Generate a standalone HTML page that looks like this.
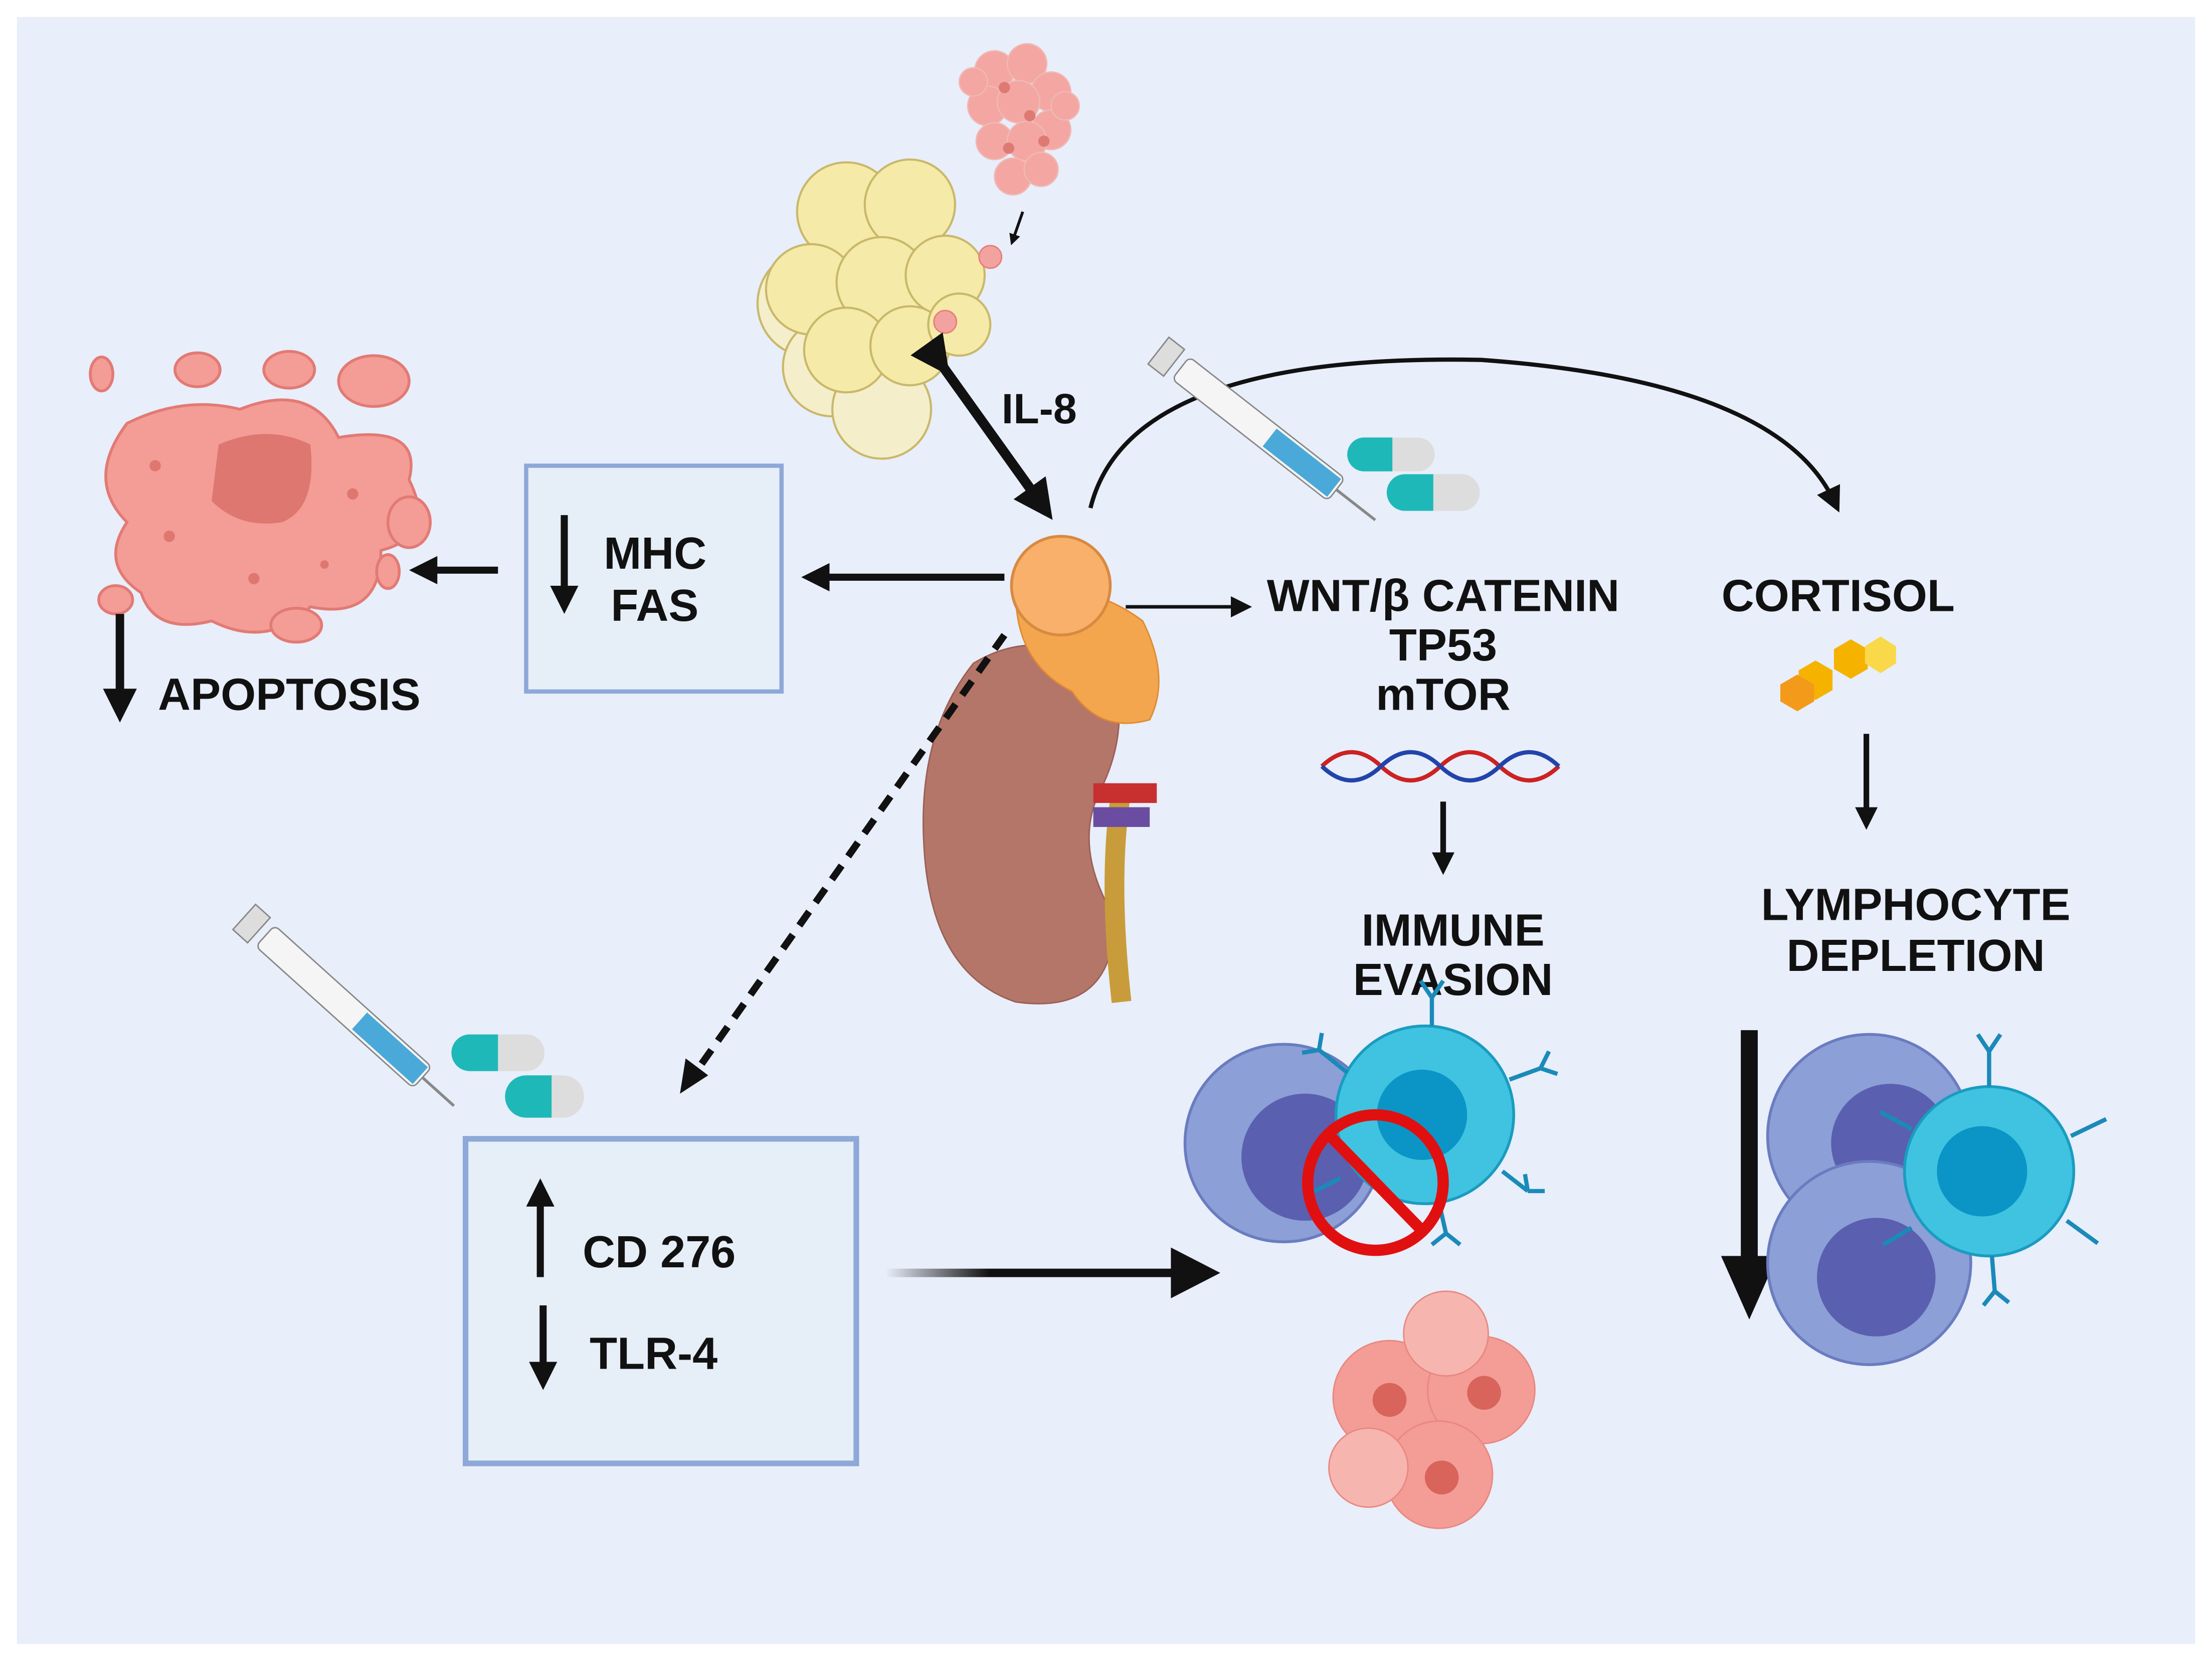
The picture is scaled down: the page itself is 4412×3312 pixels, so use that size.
<!DOCTYPE html>
<html><head><meta charset="utf-8"><style>
html,body{margin:0;padding:0;background:#fff;}
svg{display:block;}
text{font-family:"Liberation Sans",sans-serif;font-weight:bold;fill:#111;}
</style></head><body>
<svg width="4412" height="3312" viewBox="0 0 1568 1177" xmlns="http://www.w3.org/2000/svg">
<defs>
<marker id="ah" markerWidth="4" markerHeight="4" refX="2" refY="2" orient="auto" markerUnits="strokeWidth"><path d="M0,0 L4,2 L0,4 z" fill="#111"/></marker>
<marker id="ahs" markerWidth="6" markerHeight="6" refX="3" refY="3" orient="auto" markerUnits="strokeWidth"><path d="M0,0 L6,3 L0,6 z" fill="#111"/></marker>
<linearGradient id="fade" x1="0" x2="1" y1="0" y2="0"><stop offset="0" stop-color="#111" stop-opacity="0"/><stop offset="0.35" stop-color="#111"/></linearGradient>
</defs>
<rect x="12" y="12" width="1544" height="1153" fill="#e8eefa"/>

<!-- fat cells -->
<g fill="#f6eaa8" stroke="#c9b86a" stroke-width="1.5">
<circle cx="575" cy="215" r="38" fill="#f5eecb"/><circle cx="590" cy="260" r="35" fill="#f5eecb"/>
<circle cx="625" cy="290" r="35" fill="#f5eecb"/>
<circle cx="600" cy="150" r="35"/><circle cx="645" cy="145" r="32"/><circle cx="575" cy="205" r="32"/>
<circle cx="625" cy="200" r="32"/><circle cx="670" cy="195" r="28"/><circle cx="600" cy="248" r="30"/>
<circle cx="645" cy="245" r="28"/><circle cx="680" cy="230" r="22"/>
</g>
<g fill="#f4a6a2" stroke="#f0b8b4" stroke-width="1">
<circle cx="705" cy="50" r="14"/><circle cx="728" cy="45" r="14"/><circle cx="745" cy="65" r="14"/>
<circle cx="700" cy="75" r="14"/><circle cx="722" cy="72" r="15"/><circle cx="745" cy="92" r="14"/>
<circle cx="705" cy="100" r="13"/><circle cx="728" cy="100" r="14"/><circle cx="718" cy="125" r="13"/>
<circle cx="738" cy="120" r="12"/><circle cx="690" cy="58" r="10"/><circle cx="755" cy="75" r="10"/>
</g>
<g fill="#de7a74"><circle cx="712" cy="62" r="4"/><circle cx="730" cy="82" r="4"/><circle cx="715" cy="105" r="4"/><circle cx="740" cy="100" r="4"/></g>
<g fill="#f2a3a0" stroke="#e87d7a">
<circle cx="702" cy="182" r="8"/><circle cx="670" cy="228" r="8"/>
</g>
<path d="M725 150 L718 170" stroke="#111" stroke-width="2" marker-end="url(#ah)"/>

<!-- apoptosis blob -->
<g fill="#f49c96" stroke="#e27a74" stroke-width="2">
<path d="M90 300 Q130 280 170 290 Q220 270 240 310 Q300 300 290 340 Q310 380 270 390 Q270 440 220 430 Q190 460 150 440 Q110 450 100 420 Q70 400 90 370 Q60 340 90 300z"/>
<ellipse cx="140" cy="262" rx="16" ry="12"/><ellipse cx="205" cy="262" rx="18" ry="13"/><ellipse cx="265" cy="270" rx="25" ry="18"/>
<ellipse cx="72" cy="265" rx="8" ry="12"/><ellipse cx="82" cy="425" rx="12" ry="10"/><ellipse cx="210" cy="443" rx="18" ry="12"/>
<ellipse cx="275" cy="405" rx="8" ry="12"/><ellipse cx="290" cy="370" rx="15" ry="18"/>
</g>
<path d="M155 315 Q190 300 220 315 Q225 360 200 370 Q170 375 150 355z" fill="#de776f"/>
<g fill="#de776f"><circle cx="110" cy="330" r="4"/><circle cx="120" cy="380" r="4"/><circle cx="250" cy="350" r="4"/><circle cx="180" cy="410" r="4"/><circle cx="230" cy="400" r="3"/></g>

<!-- MHC box -->
<rect x="373" y="330" width="181" height="160" fill="#e6eef8" stroke="#8ea8d8" stroke-width="3"/>
<line x1="400" y1="365" x2="400" y2="425" stroke="#111" stroke-width="5" marker-end="url(#ah)"/>
<text x="428" y="403" font-size="32">MHC</text><text x="433" y="440" font-size="32">FAS</text>
<line x1="353" y1="404" x2="300" y2="404" stroke="#111" stroke-width="5" marker-end="url(#ah)"/>
<line x1="712" y1="409" x2="578" y2="409" stroke="#111" stroke-width="5" marker-end="url(#ah)"/>
<line x1="85" y1="435" x2="85" y2="500" stroke="#111" stroke-width="6" marker-end="url(#ah)"/>
<text x="112" y="503" font-size="32">APOPTOSIS</text>

<!-- IL-8 -->
<line x1="665" y1="255" x2="738" y2="357" stroke="#111" stroke-width="7" marker-start="url(#ah)" marker-end="url(#ah)"/>
<text x="710" y="300" font-size="30">IL-8</text>

<!-- kidney -->
<path d="M690 470 Q650 520 655 600 Q660 690 720 710 Q790 720 790 650 Q760 600 780 560 Q800 520 790 480 Q740 440 690 470z" fill="#b5766a" stroke="#9a5e54"/>
<path d="M795 560 Q785 620 795 710" stroke="#c89c3a" stroke-width="14" fill="none"/>
<rect x="775" y="555" width="45" height="14" fill="#c83030"/><rect x="775" y="572" width="40" height="14" fill="#6a4da0"/>
<path d="M720 420 Q770 410 810 440 Q830 480 815 510 Q780 520 760 490 Q720 470 720 420z" fill="#f3a64e" stroke="#e08a30"/>
<circle cx="752" cy="415" r="35" fill="#f8b06a" stroke="#d88a40" stroke-width="2"/>

<!-- curved arrow to cortisol -->
<path d="M773 360 Q800 250 1050 255 Q1260 270 1300 355" stroke="#111" stroke-width="3" fill="none" marker-end="url(#ahs)"/>
<line x1="798" y1="430" x2="880" y2="430" stroke="#111" stroke-width="2.5" marker-end="url(#ahs)"/>

<!-- syringe + pills top -->
<g transform="rotate(38 900 310)"><rect x="820" y="300" width="140" height="20" rx="4" fill="#f5f5f5" stroke="#888"/><rect x="900" y="302" width="58" height="16" fill="#4aa9d8"/><line x1="960" y1="310" x2="995" y2="310" stroke="#888" stroke-width="2"/><rect x="800" y="298" width="14" height="24" fill="#ddd" stroke="#888"/></g>
<g><rect x="955" y="310" width="62" height="24" rx="12" fill="#ddd"/><path d="M967 310 h20 v24 h-20 a12 12 0 0 1 0 -24z" fill="#1fb8b8"/>
<rect x="983" y="336" width="66" height="26" rx="13" fill="#ddd"/><path d="M996 336 h20 v26 h-20 a13 13 0 0 1 0 -26z" fill="#1fb8b8"/></g>

<text x="1023" y="433" font-size="32" text-anchor="middle">WNT/β CATENIN</text>
<text x="1023" y="468" font-size="32" text-anchor="middle">TP53</text>
<text x="1023" y="503" font-size="32" text-anchor="middle">mTOR</text>
<path d="M937 543 q21 -20 42 0 t42 0 t42 0 t42 0" stroke="#cc2222" stroke-width="3" fill="none"/>
<path d="M937 543 q21 20 42 0 t42 0 t42 0 t42 0" stroke="#2244aa" stroke-width="3" fill="none"/>
<line x1="1023" y1="568" x2="1023" y2="612" stroke="#111" stroke-width="4" marker-end="url(#ah)"/>
<text x="1030" y="670" font-size="32" text-anchor="middle">IMMUNE</text>
<text x="1030" y="705" font-size="32" text-anchor="middle">EVASION</text>

<text x="1303" y="433" font-size="32" text-anchor="middle">CORTISOL</text>
<g fill="#f5b300"><polygon points="1275,475 1287,468 1299,475 1299,489 1287,496 1275,489"/><polygon points="1300,460 1312,453 1324,460 1324,474 1312,481 1300,474"/><polygon points="1322,458 1333,451 1344,458 1344,470 1333,477 1322,470" fill="#f9d84a"/><polygon points="1262,485 1274,478 1286,485 1286,497 1274,504 1262,497" fill="#f39a1a"/></g>
<line x1="1323" y1="520" x2="1323" y2="580" stroke="#111" stroke-width="4" marker-end="url(#ah)"/>
<text x="1358" y="652" font-size="32" text-anchor="middle">LYMPHOCYTE</text>
<text x="1358" y="688" font-size="32" text-anchor="middle">DEPLETION</text>

<!-- dashed arrow -->
<line x1="712" y1="450" x2="493" y2="760" stroke="#111" stroke-width="5" stroke-dasharray="12 8"/>
<path d="M482 775 L486 750 L502 762z" fill="#111"/>

<!-- syringe + pills left -->
<g transform="rotate(42 240 710)"><rect x="170" y="700" width="150" height="20" rx="4" fill="#f5f5f5" stroke="#888"/><rect x="260" y="702" width="58" height="16" fill="#4aa9d8"/><line x1="320" y1="710" x2="350" y2="710" stroke="#888" stroke-width="2"/><rect x="150" y="698" width="14" height="24" fill="#ddd" stroke="#888"/></g>
<rect x="320" y="733" width="66" height="26" rx="13" fill="#ddd"/><path d="M333 733 h20 v26 h-20 a13 13 0 0 1 0 -26z" fill="#1fb8b8"/>
<rect x="358" y="762" width="56" height="30" rx="15" fill="#ddd"/><path d="M373 762 h18 v30 h-18 a15 15 0 0 1 0 -30z" fill="#1fb8b8"/>

<!-- CD276 box -->
<rect x="330" y="807" width="277" height="230" fill="#e6eef8" stroke="#8ea8d8" stroke-width="4"/>
<line x1="383" y1="905" x2="383" y2="845" stroke="#111" stroke-width="5" marker-end="url(#ah)"/>
<text x="413" y="898" font-size="32">CD 276</text>
<line x1="385" y1="925" x2="385" y2="975" stroke="#111" stroke-width="5" marker-end="url(#ah)"/>
<text x="418" y="970" font-size="32">TLR-4</text>
<rect x="628" y="899" width="210" height="6" fill="url(#fade)"/>
<path d="M865 902 L830 884 L830 920z" fill="#111"/>

<!-- immune evasion cells -->
<circle cx="910" cy="810" r="70" fill="#8c9fd6" stroke="#6a7cc0" stroke-width="2"/>
<circle cx="925" cy="820" r="45" fill="#5a5fb0"/>
<circle cx="1010" cy="790" r="63" fill="#3fc3e0" stroke="#1a9cc0" stroke-width="2"/>
<circle cx="1008" cy="790" r="32" fill="#0a95c6"/>
<g stroke="#1a8ab8" stroke-width="3" fill="none">
<path d="M1015 727 v-20 m0 0 l-8 -12 m8 12 l8 -12"/><path d="M1070 765 l22 -8 m0 0 l6 -12 m-6 12 l12 4"/>
<path d="M1065 830 l18 14 m0 0 l-2 -12 m2 12 l12 0"/><path d="M1020 852 l5 22 m0 0 l-10 8 m10 -8 l10 8"/>
<path d="M955 760 l-20 -16 m0 0 l-12 2 m12 -2 l2 -12"/><path d="M950 835 l-20 10"/>
</g>
<circle cx="975" cy="838" r="48" fill="none" stroke="#e01010" stroke-width="8"/>
<line x1="942" y1="804" x2="1008" y2="872" stroke="#e01010" stroke-width="8"/>

<!-- tumor cluster -->
<g fill="#f49c96" stroke="#e88880"><circle cx="985" cy="990" r="40"/><circle cx="1050" cy="985" r="38"/><circle cx="1020" cy="1045" r="38"/><circle cx="970" cy="1040" r="28" fill="#f7b5b0"/><circle cx="1025" cy="945" r="30" fill="#f7b5b0"/></g>
<g fill="#d8645c"><circle cx="985" cy="992" r="12"/><circle cx="1052" cy="987" r="12"/><circle cx="1022" cy="1047" r="12"/></g>

<!-- lymphocyte depletion -->
<line x1="1240" y1="730" x2="1240" y2="900" stroke="#111" stroke-width="12"/>
<path d="M1240 935 L1220 890 L1260 890z" fill="#111"/>
<circle cx="1325" cy="805" r="72" fill="#8c9fd6" stroke="#6a7cc0" stroke-width="2"/><circle cx="1340" cy="810" r="42" fill="#5a5fb0"/>
<circle cx="1325" cy="895" r="72" fill="#8c9fd6" stroke="#6a7cc0" stroke-width="2"/><circle cx="1330" cy="905" r="42" fill="#5a5fb0"/>
<circle cx="1410" cy="830" r="60" fill="#3fc3e0" stroke="#1a9cc0" stroke-width="2"/><circle cx="1405" cy="830" r="32" fill="#0a95c6"/>
<g stroke="#1a8ab8" stroke-width="3" fill="none">
<path d="M1410 770 v-25 m0 0 l-8 -12 m8 12 l8 -12"/><path d="M1468 805 l25 -12"/><path d="M1465 865 l22 16"/>
<path d="M1412 890 l2 25 m0 0 l-8 10 m8 -10 l10 8"/><path d="M1355 800 l-22 -12"/><path d="M1355 870 l-20 12"/>
</g>
</svg>
</body></html>
